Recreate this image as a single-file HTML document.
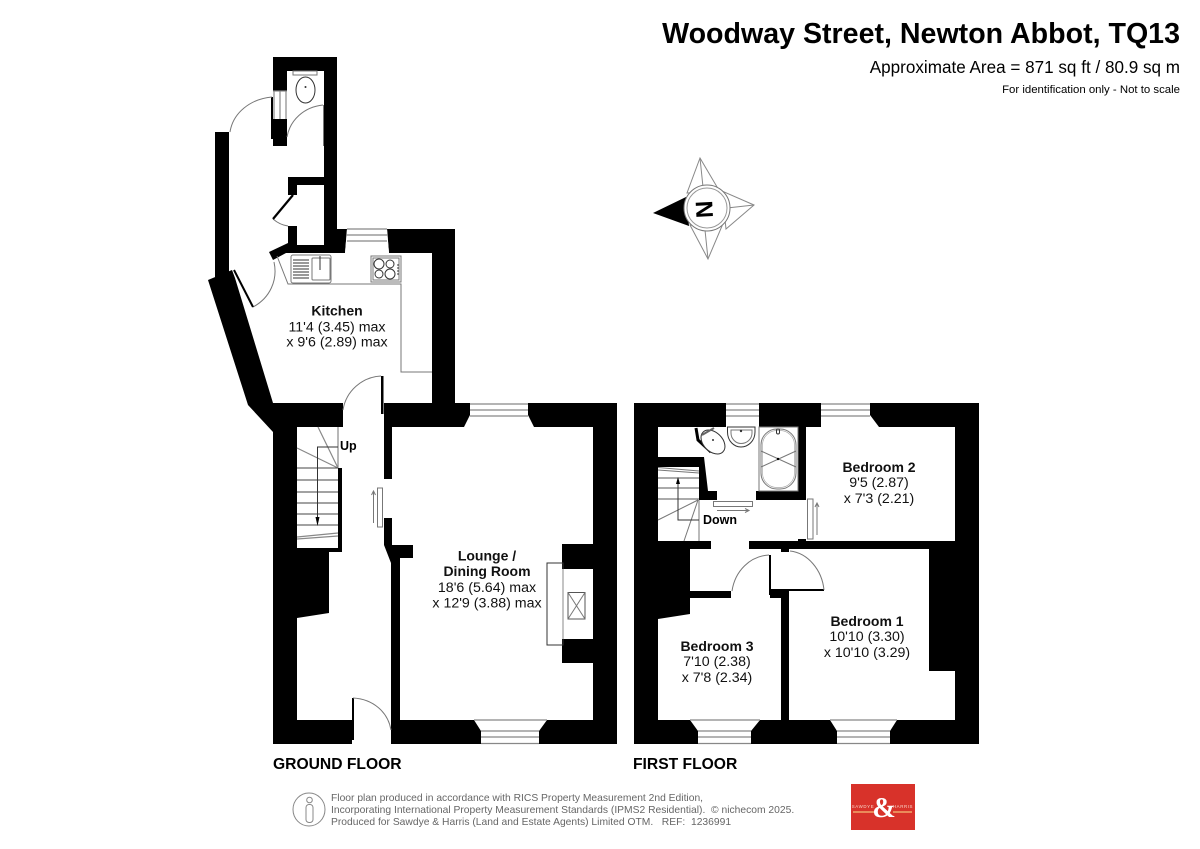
<!DOCTYPE html>
<html><head><meta charset="utf-8"><style>
html,body{margin:0;padding:0;background:#fff}
svg{display:block}
text{font-family:"Liberation Sans",sans-serif;fill:#000}
.b{font-weight:bold}
.g{fill:none;stroke:#777;stroke-width:1}
.d{fill:none;stroke:#333;stroke-width:1}
.w{fill:#fff;stroke:none}
.l{stroke:#888;stroke-width:1.2;fill:none}
.r text{font-size:14.2px;text-anchor:middle;fill:#111}
.r text.b{font-size:14px}
.f text{font-size:10.3px;fill:#666}
</style></head><body>
<svg width="1200" height="849" viewBox="0 0 1200 849" xmlns="http://www.w3.org/2000/svg">
<rect width="1200" height="849" fill="#fff"/>
<text x="1180" y="43" text-anchor="end" class="b" font-size="28.6">Woodway Street, Newton Abbot, TQ13</text>
<text x="1180" y="73" text-anchor="end" font-size="17.1">Approximate Area = 871 sq ft / 80.9 sq m</text>
<text x="1180" y="93" text-anchor="end" font-size="11.4">For identification only - Not to scale</text>

<!-- Compass -->
<g fill="#fff" stroke="#888" stroke-width="1">
<polygon points="700,158 720,192 687,193"/>
<polygon points="754,205 722,191 726,229"/>
<polygon points="708,259 690,225 722,226"/>
<line x1="700" y1="158" x2="703" y2="187"/><line x1="754" y1="205" x2="727" y2="208"/><line x1="708" y1="259" x2="705" y2="230"/>
</g>
<polygon points="653,213 686,197 689,226" fill="#000"/>
<circle cx="707" cy="208" r="23" fill="#fff" stroke="#777"/>
<circle cx="707" cy="208" r="20" fill="#fff" stroke="#999"/>
<text class="b" font-size="24" text-anchor="middle" transform="translate(712.5,209) rotate(-93)">N</text>

<!-- GROUND FLOOR WALLS -->
<g fill="#000">
<polygon points="273,57 337,57 337,229 347,229 345,253 286,253 273,260 269,252 288,243 288,226 297,226 297,245 324,245 324,71 287,71 287,146 273,146"/>
<polygon points="288,177 324,177 324,185 297,185 297,195 288,195"/>
<rect x="215" y="132" width="14" height="145"/>
<polygon points="208,280 232,270 235,278 273,403 343,403 343,427 297,427 297,720 352,720 352,744 273,744 273,432 248,405"/>
<polygon points="338,468 342,468 342,552 329,552 329,613 297,618 297,548 338,548"/>
<polygon points="387,229 455,229 455,403 432,403 432,253 389,253"/>
<rect x="384" y="403" width="233" height="24"/>
<rect x="593" y="403" width="24" height="341"/>
<rect x="391" y="720" width="226" height="24"/>
<rect x="384" y="427" width="8" height="52"/>
<polygon points="384,518 392,518 392,545 413,545 413,558 400,558 400,720 391,720 391,563 384,545"/>
<rect x="562" y="544" width="32" height="25"/>
<rect x="562" y="639" width="32" height="24"/>
<rect x="381" y="376" width="2.5" height="38"/>
<rect x="352" y="698" width="2" height="42"/>
<rect x="271" y="97" width="2" height="42"/>
</g>
<!-- Ground windows -->
<g>
<rect class="w" x="273" y="91" width="14" height="28"/>
<g class="l"><line x1="273" y1="91" x2="287" y2="91"/><line x1="274" y1="91" x2="274" y2="119"/><line x1="280" y1="91" x2="280" y2="119"/><line x1="286" y1="91" x2="286" y2="119"/></g>
<polygon class="w" points="347,229 387,229 389,253 345,253"/>
<g class="l"><line x1="347" y1="229" x2="387" y2="229"/><line x1="347" y1="235" x2="387" y2="235"/><line x1="347" y1="241" x2="387" y2="241"/></g>
<polygon class="w" points="470,403 528,403 528,415 534,427 464,427 470,415"/>
<g class="l"><line x1="470" y1="404" x2="528" y2="404"/><line x1="470" y1="410" x2="528" y2="410"/><line x1="470" y1="416" x2="528" y2="416"/></g>
<polygon class="w" points="474,720 547,720 539,731 539,744 481,744 481,731"/>
<g class="l"><line x1="474" y1="720" x2="547" y2="720"/><line x1="481" y1="731" x2="539" y2="731"/><line x1="481" y1="737" x2="539" y2="737"/><line x1="481" y1="743.5" x2="539" y2="743.5"/></g>
</g>
<!-- Ground doors -->
<g class="g">
<path d="M272,97 C250,99 233,113 230,132"/>
<path d="M323,105 C304,107 290,120 287,137"/>
<path d="M273,219 Q280,225 288,226"/>
<path d="M274,262 C278,280 270,298 253,307"/>
<path d="M381,376 C362,377 346,391 343,410"/>
<path d="M353,698 C373,699 388,712 391,730"/>
<line x1="323.5" y1="105" x2="323.5" y2="146"/>
</g>
<line x1="293" y1="195" x2="273" y2="219" stroke="#000" stroke-width="2.2"/>
<line x1="234" y1="270" x2="253" y2="307" stroke="#000" stroke-width="2"/>
<!-- WC fittings -->
<ellipse cx="305.5" cy="90" rx="9.5" ry="13" class="d"/>
<rect x="293" y="71" width="24" height="4" class="g"/>
<circle cx="305.5" cy="87" r="1" fill="#333"/>
<!-- Kitchen fittings -->
<polyline class="g" points="277,256 288,284 401,284 401,372 432,372"/>
<rect x="291" y="255" width="40" height="28" rx="2" class="g"/>
<rect x="312" y="258" width="18" height="22" rx="1" class="g"/>
<g stroke="#555" stroke-width="1.2"><line x1="293" y1="260" x2="309" y2="260"/><line x1="293" y1="263" x2="309" y2="263"/><line x1="293" y1="266" x2="309" y2="266"/><line x1="293" y1="269" x2="309" y2="269"/><line x1="293" y1="272" x2="309" y2="272"/><line x1="293" y1="275" x2="309" y2="275"/><line x1="293" y1="278" x2="309" y2="278"/></g>
<line x1="320" y1="256" x2="320" y2="270" stroke="#333"/>
<rect x="371" y="256" width="30" height="26" class="g"/>
<rect x="373" y="258" width="26" height="22" class="g"/>
<circle cx="379" cy="264" r="5" class="d"/><circle cx="390" cy="264" r="4" class="d"/><circle cx="379" cy="274" r="4" class="d"/><circle cx="390" cy="274" r="5" class="d"/>
<g fill="#555"><circle cx="398" cy="265" r=".9"/><circle cx="398" cy="268" r=".9"/><circle cx="398" cy="271" r=".9"/><circle cx="398" cy="274" r=".9"/></g>
<!-- Ground stairs -->
<g class="l">
<line x1="338" y1="427" x2="338" y2="468"/>
<line x1="318" y1="427" x2="338" y2="468"/>
<line x1="297" y1="448" x2="338" y2="468"/>
<line x1="297" y1="537" x2="338" y2="533"/><line x1="297" y1="539" x2="338" y2="536"/>
</g>
<g stroke="#444" stroke-width="1"><line x1="297" y1="468" x2="338" y2="468"/><line x1="297" y1="480" x2="338" y2="480"/><line x1="297" y1="492" x2="338" y2="492"/><line x1="297" y1="503" x2="338" y2="503"/><line x1="297" y1="514" x2="338" y2="514"/><line x1="297" y1="525" x2="338" y2="525"/></g>
<polyline points="338,447 317.5,447 317.5,520" fill="none" stroke="#333"/>
<polygon points="315.5,517 319.5,517 317.5,526" fill="#000"/>
<text x="340" y="450" class="b" font-size="12.5">Up</text>
<!-- Radiator -->
<rect x="377.5" y="488" width="5" height="39" class="g" fill="#fff"/>
<polyline class="g" points="373.5,523 373.5,492"/><polyline class="g" points="371.5,495 373.5,491 375.5,495"/>
<!-- Fireplace -->
<rect x="547" y="563" width="16" height="82" class="d"/>
<line x1="563" y1="569" x2="563" y2="639" stroke="#888"/>
<rect x="568" y="592.5" width="17" height="26.5" stroke="#555" fill="none"/>
<line x1="568" y1="592.5" x2="585" y2="619" stroke="#777"/><line x1="585" y1="592.5" x2="568" y2="619" stroke="#777"/>

<!-- FIRST FLOOR WALLS -->
<g fill="#000">
<rect x="634" y="403" width="345" height="24"/>
<rect x="955" y="403" width="24" height="341"/>
<rect x="634" y="720" width="345" height="24"/>
<rect x="634" y="403" width="24" height="341"/>
<polygon points="658,457 704,457 708,491 717,491 717,500 699,500 699,467 658,467"/>
<polygon points="658,541 711,541 711,549 690,549 690,591 731,591 731,598 690,598 690,614 658,619"/>
<rect x="749" y="541" width="206" height="8"/>
<rect x="929" y="549" width="26" height="122"/>
<rect x="781" y="591" width="8" height="130"/>
<rect x="770" y="591" width="19" height="7"/>
<rect x="781" y="549" width="8" height="3"/>
<rect x="798" y="427" width="8" height="73"/>
<rect x="756" y="491" width="50" height="9"/>
<rect x="798" y="539" width="8" height="3"/>
<rect x="769" y="555" width="2" height="40"/>
<rect x="770" y="589" width="54" height="2"/>
</g>
<polyline points="696,428 698,440 711,452" fill="none" stroke="#000" stroke-width="3"/>
<!-- First windows -->
<rect class="w" x="726" y="403" width="33" height="24"/>
<g class="l"><line x1="726" y1="404" x2="759" y2="404"/><line x1="726" y1="410" x2="759" y2="410"/><line x1="726" y1="416" x2="759" y2="416"/></g>
<polygon class="w" points="821,403 870,403 870,415 879,427 821,427"/>
<g class="l"><line x1="821" y1="404" x2="870" y2="404"/><line x1="821" y1="410" x2="870" y2="410"/><line x1="821" y1="416" x2="870" y2="416"/></g>
<polygon class="w" points="690,720 760,720 751,731 751,744 698,744 698,731"/>
<g class="l"><line x1="690" y1="720" x2="760" y2="720"/><line x1="698" y1="731" x2="751" y2="731"/><line x1="698" y1="737" x2="751" y2="737"/><line x1="698" y1="743.5" x2="751" y2="743.5"/></g>
<polygon class="w" points="830,720 897,720 890,731 890,744 837,744 837,731"/>
<g class="l"><line x1="830" y1="720" x2="897" y2="720"/><line x1="837" y1="731" x2="890" y2="731"/><line x1="837" y1="737" x2="890" y2="737"/><line x1="837" y1="743.5" x2="890" y2="743.5"/></g>
<!-- First doors -->
<g class="g">
<path d="M769,555 C750,556 735,571 732,591"/>
<path d="M790,551 C808,553 822,570 824,590"/>
</g>
<!-- Bath room fittings -->
<ellipse cx="713" cy="442" rx="9.5" ry="14" transform="rotate(-45 713 442)" fill="#fff" stroke="#333"/>
<circle cx="713" cy="440" r="1" fill="#333"/>
<line x1="702" y1="435" x2="714" y2="428" stroke="#666" stroke-width="2"/>
<path d="M727.5,427 H755 V432 C755,441 748,447 741,447 C734,447 727.5,441 727.5,432 Z" class="d"/>
<path d="M731,430 H752 V433 C752,439 747,443.5 741,443.5 C736,443.5 731,439 731,433 Z" class="g"/>
<circle cx="741" cy="431" r="1.2" fill="#333"/>
<rect x="759" y="427" width="39" height="64" class="g" stroke="#aaa"/>
<rect x="761" y="429" width="35" height="60" rx="16" class="g"/>
<rect x="762.5" y="430.5" width="32" height="57" rx="14.5" fill="none" stroke="#aaa" stroke-width=".7"/>
<g class="g"><line x1="761" y1="451" x2="796" y2="467"/><line x1="761" y1="467" x2="796" y2="451"/></g>
<circle cx="778" cy="459" r="1.2" fill="#000"/>
<rect x="776.5" y="429" width="3" height="5" rx="1.5" class="d"/>
<!-- First stairs -->
<g stroke="#555"><line x1="658" y1="478" x2="699" y2="478"/><line x1="658" y1="488" x2="699" y2="488"/><line x1="658" y1="499" x2="699" y2="499"/></g>
<g class="g">
<line x1="658" y1="467.5" x2="699" y2="471"/><line x1="658" y1="470" x2="699" y2="473"/>
<line x1="699" y1="500" x2="699" y2="541"/>
<line x1="698" y1="500" x2="658" y2="520"/>
<line x1="698" y1="500" x2="684" y2="541"/>
</g>
<polyline points="699,520 678,520 678,482" fill="none" stroke="#333"/>
<polygon points="676,484 680,484 678,477" fill="#000"/>
<text x="703" y="524" class="b" font-size="12.5">Down</text>
<!-- First radiators -->
<rect x="713.5" y="501.5" width="39" height="5" class="g" fill="#fff"/>
<polyline class="g" points="717,510.5 748,510.5"/><polyline class="g" points="745,508.5 749,510.5 745,512.5"/>
<rect x="807.5" y="499" width="5.5" height="40" class="g" fill="#fff"/>
<polyline class="g" points="817,535 817,504"/><polyline class="g" points="815,507 817,503 819,507"/>

<!-- Room labels -->
<g class="r">
<text x="337" y="315.5" class="b">Kitchen</text><text x="337" y="331.5">11'4 (3.45) max</text><text x="337" y="346.5">x 9'6 (2.89) max</text>
<text x="487" y="560.5" class="b">Lounge /</text><text x="487" y="576" class="b">Dining Room</text><text x="487" y="592">18'6 (5.64) max</text><text x="487" y="607.5">x 12'9 (3.88) max</text>
<text x="879" y="472" class="b">Bedroom 2</text><text x="879" y="487">9'5 (2.87)</text><text x="879" y="503">x 7'3 (2.21)</text>
<text x="867" y="626" class="b">Bedroom 1</text><text x="867" y="641">10'10 (3.30)</text><text x="867" y="657">x 10'10 (3.29)</text>
<text x="717" y="651" class="b">Bedroom 3</text><text x="717" y="666">7'10 (2.38)</text><text x="717" y="682">x 7'8 (2.34)</text>
</g>
<text x="273" y="769" class="b" font-size="15.65">GROUND FLOOR</text>
<text x="633" y="769" class="b" font-size="15.65">FIRST FLOOR</text>

<!-- Footer -->
<g class="f">
<text x="331" y="801">Floor plan produced in accordance with RICS Property Measurement 2nd Edition,</text>
<text x="331" y="813" xml:space="preserve">Incorporating International Property Measurement Standards (IPMS2 Residential).  © nichecom 2025.</text>
<text x="331" y="825" xml:space="preserve">Produced for Sawdye &amp; Harris (Land and Estate Agents) Limited OTM.   REF:  1236991</text>
</g>
<ellipse cx="309" cy="809.5" rx="16" ry="16.5" fill="none" stroke="#888"/>
<circle cx="309.5" cy="800" r="2.8" fill="none" stroke="#888"/>
<rect x="306" y="804.5" width="7" height="18" rx="3" fill="none" stroke="#888"/>
<!-- Logo -->
<rect x="851" y="784" width="64" height="46" fill="#d8322a"/>
<text x="884" y="817" text-anchor="middle" class="b" font-size="28" style="font-family:'Liberation Serif',serif;fill:#fff">&amp;</text>
<text x="863" y="808" text-anchor="middle" font-size="4.4" letter-spacing=".6" style="fill:#f7d5c8">SAWDYE</text>
<text x="903" y="808" text-anchor="middle" font-size="4.4" letter-spacing=".6" style="fill:#f7d5c8">HARRIS</text>
<rect x="853" y="811" width="21" height="2" fill="#ea8a5a"/>
<rect x="893" y="811" width="19" height="2" fill="#ea8a5a"/>
</svg>
</body></html>
